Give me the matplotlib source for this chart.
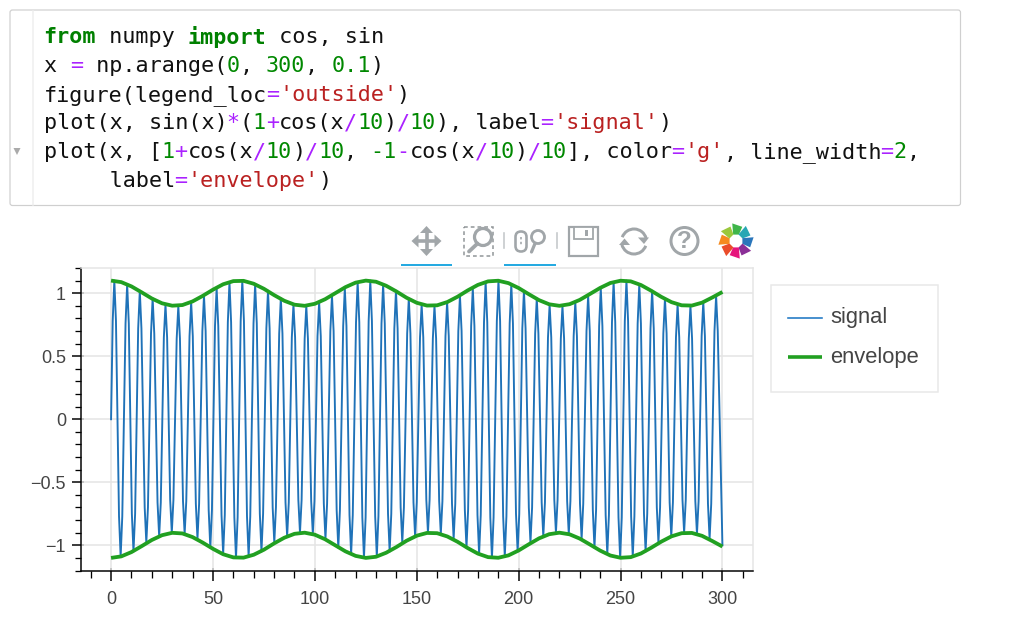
import matplotlib
matplotlib.use("Agg")
import matplotlib.pyplot as plt
from matplotlib.patches import FancyBboxPatch, Rectangle, Circle, Polygon, Arc
from matplotlib.ticker import MultipleLocator, FuncFormatter
from math import cos, sin, radians

W, H = 1024, 623

# ---- data ----
signal_x = [0.0,
    0.8, 1.6, 2.4, 3.9, 4.7, 5.5, 7.1, 7.9, 8.7, 10.2, 11.0, 11.8, 13.3, 14.1, 14.9, 16.5, 17.3, 18.1,
    19.6, 20.4, 21.2, 22.8, 23.6, 24.4, 25.9, 26.7, 27.5, 29.0, 29.8, 30.6,
    32.2, 33.0, 33.8, 35.3, 36.1, 36.9, 38.5, 39.3, 40.1, 41.6, 42.4, 43.2, 44.8, 45.6, 46.4, 47.9, 48.7, 49.5,
    51.0, 51.8, 52.6, 54.2, 55.0, 55.8, 57.3, 58.1, 58.9, 60.5, 61.3, 62.1,
    63.6, 64.4, 65.2, 66.7, 67.5, 68.3, 69.9, 70.7, 71.5, 73.0, 73.8, 74.6, 76.2, 77.0, 77.8, 79.3, 80.1, 80.9,
    82.5, 83.3, 84.1, 85.6, 86.4, 87.2, 88.7, 89.5, 90.3, 91.9, 92.7, 93.5,
    95.0, 95.8, 96.6, 98.2, 99.0, 99.8, 101.3, 102.1, 102.9, 104.4, 105.2, 106.0, 107.6, 108.4, 109.2, 110.7, 111.5, 112.3,
    113.9, 114.7, 115.5, 117.0, 117.8, 118.6, 120.2, 121.0, 121.8, 123.3, 124.1, 124.9,
    126.4, 127.2, 128.0, 129.6, 130.4, 131.2, 132.7, 133.5, 134.3, 135.9, 136.7, 137.5, 139.0, 139.8, 140.6, 142.1, 142.9, 143.7,
    145.3, 146.1, 146.9, 148.4, 149.2, 150.0, 151.6, 152.4, 153.2, 154.7, 155.5, 156.3,
    157.9, 158.7, 159.5, 161.0, 161.8, 162.6, 164.1, 164.9, 165.7, 167.3, 168.1, 168.9, 170.4, 171.2, 172.0, 173.6, 174.4, 175.2,
    176.7, 177.5, 178.3, 179.8, 180.6, 181.4, 183.0, 183.8, 184.6, 186.1, 186.9, 187.7,
    189.3, 190.1, 190.9, 192.4, 193.2, 194.0, 195.6, 196.4, 197.2, 198.7, 199.5, 200.3, 201.8, 202.6, 203.4, 205.0, 205.8, 206.6,
    208.1, 208.9, 209.7, 211.3, 212.1, 212.9, 214.4, 215.2, 216.0, 217.5, 218.3, 219.1,
    220.7, 221.5, 222.3, 223.8, 224.6, 225.4, 227.0, 227.8, 228.6, 230.1, 230.9, 231.7, 233.3, 234.1, 234.9, 236.4, 237.2, 238.0,
    239.5, 240.3, 241.1, 242.7, 243.5, 244.3, 245.8, 246.6, 247.4, 249.0, 249.8, 250.6,
    252.1, 252.9, 253.7, 255.2, 256.0, 256.8, 258.4, 259.2, 260.0, 261.5, 262.3, 263.1, 264.7, 265.5, 266.3, 267.8, 268.6, 269.4,
    271.0, 271.8, 272.6, 274.1, 274.9, 275.7, 277.2, 278.0, 278.8, 280.4, 281.2, 282.0,
    283.5, 284.3, 285.1, 286.7, 287.5, 288.3, 289.8, 290.6, 291.4, 292.9, 293.7, 294.5, 296.1, 296.9, 297.7, 300.0]
signal_y = [0.0,
    .78, 1.10, .78, -.77, -1.09, -.77, .76, 1.07, .76, -.75, -1.05, -.75, .72, 1.02, .72, -.70, -.98, -.70,
    .68, .96, .68, -.66, -.93, -.66, .65, .91, .65, -.64, -.90, -.64,
    .64, .90, .64, -.65, -.91, -.65, .66, .93, .66, -.67, -.95, -.67, .70, .98, .70, -.72, -1.02, -.72,
    .74, 1.04, .74, -.76, -1.07, -.76, .77, 1.09, .77, -.78, -1.10, -.78,
    .78, 1.10, .78, -.77, -1.09, -.77, .76, 1.07, .76, -.75, -1.05, -.75, .72, 1.02, .72, -.70, -.98, -.70,
    .68, .96, .68, -.66, -.93, -.66, .65, .91, .65, -.64, -.90, -.64,
    .64, .90, .64, -.65, -.91, -.65, .66, .93, .66, -.67, -.95, -.67, .70, .98, .70, -.72, -1.02, -.72,
    .74, 1.04, .74, -.76, -1.07, -.76, .77, 1.09, .77, -.78, -1.10, -.78,
    .78, 1.10, .78, -.77, -1.09, -.77, .76, 1.07, .76, -.75, -1.05, -.75, .72, 1.02, .72, -.70, -.98, -.70,
    .68, .96, .68, -.66, -.93, -.66, .65, .91, .65, -.64, -.90, -.64,
    .64, .90, .64, -.65, -.91, -.65, .66, .93, .66, -.67, -.95, -.67, .70, .98, .70, -.72, -1.02, -.72,
    .74, 1.04, .74, -.76, -1.07, -.76, .77, 1.09, .77, -.78, -1.10, -.78,
    .78, 1.10, .78, -.77, -1.09, -.77, .76, 1.07, .76, -.75, -1.05, -.75, .72, 1.02, .72, -.70, -.98, -.70,
    .68, .96, .68, -.66, -.93, -.66, .65, .91, .65, -.64, -.90, -.64,
    .64, .90, .64, -.65, -.91, -.65, .66, .93, .66, -.67, -.95, -.67, .70, .98, .70, -.72, -1.02, -.72,
    .74, 1.04, .74, -.76, -1.07, -.76, .77, 1.09, .77, -.78, -1.10, -.78,
    .78, 1.10, .78, -.77, -1.09, -.77, .76, 1.07, .76, -.75, -1.05, -.75, .72, 1.02, .72, -.70, -.98, -.70,
    .68, .96, .68, -.66, -.93, -.66, .65, .91, .65, -.64, -.90, -.64,
    .64, .90, .64, -.65, -.91, -.65, .66, .93, .66, -.67, -.95, -.67, .70, .98, .70, -1.00]

envelope_x = [0, 5, 10, 15, 20, 25, 30, 35, 40, 45, 50, 55, 60, 65, 70, 75, 80, 85, 90, 95,
              100, 105, 110, 115, 120, 125, 130, 135, 140, 145, 150, 155, 160, 165, 170, 175, 180, 185, 190, 195,
              200, 205, 210, 215, 220, 225, 230, 235, 240, 245, 250, 255, 260, 265, 270, 275, 280, 285, 290, 295, 300]
envelope_top = [1.100, 1.088, 1.054, 1.007, 0.958, 0.920, 0.901, 0.906, 0.935, 0.979,
                1.028, 1.071, 1.096, 1.098, 1.075, 1.035, 0.985, 0.940, 0.909, 0.900,
                0.916, 0.952, 1.000, 1.048, 1.084, 1.100, 1.091, 1.059, 1.014, 0.964,
                0.924, 0.902, 0.904, 0.930, 0.972, 1.022, 1.066, 1.094, 1.099, 1.080,
                1.041, 0.992, 0.945, 0.912, 0.900, 0.913, 0.947, 0.994, 1.042, 1.081,
                1.099, 1.094, 1.065, 1.020, 0.971, 0.929, 0.904, 0.902, 0.925, 0.966, 1.010]
envelope_bottom = [-v for v in envelope_top]

x_major = [0, 50, 100, 150, 200, 250, 300]
y_major = [-1, -0.5, 0, 0.5, 1]
legend_labels = ["signal", "envelope"]

BLACK, KW, NUM, OP, STR = "#111111", "#008000", "#008800", "#AA22FF", "#BA2121"
code_lines = [
    [("from", KW, 1), (" numpy ", BLACK, 0), ("import", KW, 1), (" cos, sin", BLACK, 0)],
    [("x ", BLACK, 0), ("=", OP, 1), (" np.arange(", BLACK, 0), ("0", NUM, 0), (", ", BLACK, 0),
     ("300", NUM, 0), (", ", BLACK, 0), ("0.1", NUM, 0), (")", BLACK, 0)],
    [("figure(legend_loc", BLACK, 0), ("=", OP, 1), ("'outside'", STR, 0), (")", BLACK, 0)],
    [("plot(x, sin(x)", BLACK, 0), ("*", OP, 1), ("(", BLACK, 0), ("1", NUM, 0), ("+", OP, 1),
     ("cos(x", BLACK, 0), ("/", OP, 1), ("10", NUM, 0), (")", BLACK, 0), ("/", OP, 1), ("10", NUM, 0),
     ("), label", BLACK, 0), ("=", OP, 1), ("'signal'", STR, 0), (")", BLACK, 0)],
    [("plot(x, [", BLACK, 0), ("1", NUM, 0), ("+", OP, 1), ("cos(x", BLACK, 0), ("/", OP, 1),
     ("10", NUM, 0), (")", BLACK, 0), ("/", OP, 1), ("10", NUM, 0), (", ", BLACK, 0), ("-1", NUM, 0),
     ("-", OP, 1), ("cos(x", BLACK, 0), ("/", OP, 1), ("10", NUM, 0), (")", BLACK, 0), ("/", OP, 1),
     ("10", NUM, 0), ("], color", BLACK, 0), ("=", OP, 1), ("'g'", STR, 0), (", line_width", BLACK, 0),
     ("=", OP, 1), ("2", NUM, 0), (",", BLACK, 0)],
    [("     label", BLACK, 0), ("=", OP, 1), ("'envelope'", STR, 0), (")", BLACK, 0)],
]
code_y = [35.3, 64, 92.7, 121.4, 150, 178.7]

# ---- figure ----
fig = plt.figure(figsize=(W / 100, H / 100), dpi=100, facecolor="white")
px = 72 / 100  # one pixel in points
BLUE, GREEN = "#1f72b8", "#21a021"

ax = fig.add_axes([80.5 / W, 1 - 570.5 / H, (753 - 80.5) / W, (570.5 - 268) / H])
ax.plot(signal_x, signal_y, color=BLUE, lw=1.9 * px, label=legend_labels[0], zorder=3)
ax.plot(envelope_x, envelope_top, color=GREEN, lw=3.8 * px, zorder=4,
        label=legend_labels[1], solid_capstyle="butt")
ax.plot(envelope_x, envelope_bottom, color=GREEN, lw=3.8 * px, zorder=4, solid_capstyle="butt")
ax.set_xlim(-15, 315)
ax.set_ylim(-1.2, 1.2)
ax.grid(True, which="major", color="#e5e5e5", lw=1.6 * px, zorder=0)
ax.set_axisbelow(True)
for s in ("top", "right"):
    ax.spines[s].set_color("#e5e5e5")
    ax.spines[s].set_linewidth(1.5 * px)
for s in ("left", "bottom"):
    ax.spines[s].set_color("black")
    ax.spines[s].set_linewidth(1.5 * px)
ax.set_xticks(x_major)
ax.set_yticks(y_major)
ax.xaxis.set_minor_locator(MultipleLocator(10))
ax.yaxis.set_minor_locator(MultipleLocator(0.1))
fmt = lambda v, _: (f"{v:g}").replace("-", "\u2212")
ax.xaxis.set_major_formatter(FuncFormatter(fmt))
ax.yaxis.set_major_formatter(FuncFormatter(fmt))
ax.tick_params(which="major", direction="out", length=9.5 * px, width=1.5 * px, color="black")
ax.tick_params(which="minor", direction="out", length=6.5 * px, width=1.3 * px, color="black")
ax.tick_params(axis="x", which="major", pad=10.5 * px)
ax.tick_params(axis="y", which="major", pad=5 * px)
for lab in ax.get_xticklabels() + ax.get_yticklabels():
    lab.set_fontfamily("Liberation Sans")
    lab.set_fontsize(13)
    lab.set_color("#444444")

# short inner stubs of the major ticks
for side, axis in (("bottom", ax.secondary_xaxis), ("left", ax.secondary_yaxis)):
    sec = axis(side)
    sec.spines[side].set_visible(False)
    sec.set_xticks(x_major) if side == "bottom" else sec.set_yticks(y_major)
    sec.tick_params(which="major", direction="in", length=3 * px, width=1.5 * px,
                    labelbottom=False, labelleft=False)
    sec.minorticks_off()

# ---- overlay in pixel coordinates ----
ov = fig.add_axes([0, 0, 1, 1], zorder=5)
ov.set_xlim(0, W)
ov.set_ylim(H, 0)
ov.axis("off")
ov.patch.set_alpha(0)

# code cell
ov.add_patch(FancyBboxPatch((10, 10), 950.5, 195.5, boxstyle="round,pad=0,rounding_size=2.5",
                            fc="white", ec="#cfcfcf", lw=1.2 * px))
ov.plot([33, 33], [11, 205], color="#eeeeee", lw=1.5 * px)
ov.add_patch(Polygon([[13.5, 148], [20.5, 148], [17, 155]], fc="#aaaaaa", ec="none"))
CW = 13.08
for y, tokens in zip(code_y, code_lines):
    col = 0
    for s, c, bold in tokens:
        ov.text(43.5 + col * CW, y, s, family="DejaVu Sans Mono", fontsize=15.7, color=c,
                fontweight="bold" if bold and c == KW else "normal", va="center_baseline", ha="left")
        col += len(s)

# toolbar
G = "#a1a6a9"
ov.add_patch(Rectangle((401, 264), 51, 2.2, fc="#26aae1", ec="none"))
ov.add_patch(Rectangle((504, 264), 52, 2.2, fc="#26aae1", ec="none"))
# pan
cx, cy = 426.5, 241
ov.plot([cx - 11, cx + 11], [cy, cy], color=G, lw=3.6 * px, solid_capstyle="butt")
ov.plot([cx, cx], [cy - 11, cy + 11], color=G, lw=3.6 * px, solid_capstyle="butt")
for pts in ([[cx - 15, cy], [cx - 8, cy - 6.5], [cx - 8, cy + 6.5]], [[cx + 15, cy], [cx + 8, cy - 6.5], [cx + 8, cy + 6.5]],
            [[cx, cy - 15], [cx - 6.5, cy - 8], [cx + 6.5, cy - 8]], [[cx, cy + 15], [cx - 6.5, cy + 8], [cx + 6.5, cy + 8]]):
    ov.add_patch(Polygon(pts, fc=G, ec="none"))
# box zoom
ov.add_patch(Rectangle((463.5, 227), 29, 29, fc="none", ec="#8f9496", lw=1.5 * px, ls=(0, (2.5, 2))))
ov.add_patch(Circle((483, 237), 8.5, fc="white", ec=G, lw=3.2 * px))
ov.plot([477.5, 469], [243.5, 251.5], color=G, lw=3.8 * px, solid_capstyle="round")
# separators
for x in (503.5, 557):
    ov.plot([x, x], [233, 248], color="#c4c8ca", lw=1.6 * px)
# wheel zoom
ov.add_patch(FancyBboxPatch((515.5, 231.5), 11, 20, boxstyle="round,pad=0,rounding_size=5.5", fc="none", ec=G, lw=2.6 * px))
ov.plot([521, 521], [237, 246], color=G, lw=1.6 * px, ls=(0, (1.5, 1.5)))
ov.add_patch(Circle((538, 237), 6.5, fc="white", ec=G, lw=2.8 * px))
ov.plot([535, 531.5], [243.5, 252], color=G, lw=3.2 * px, solid_capstyle="round")
# save
ov.add_patch(Rectangle((568.5, 227), 29.5, 29, fc="white", ec=G, lw=2.2 * px))
ov.add_patch(Rectangle((574, 227), 18.5, 11.5, fc="white", ec=G, lw=1.8 * px))
ov.add_patch(Rectangle((584.5, 229.5), 3.5, 6, fc=G, ec="none"))
# reset
rc = (634, 241.5)
ov.add_patch(Arc(rc, 25, 25, theta1=200, theta2=345, ec=G, lw=3 * px))
ov.add_patch(Arc(rc, 25, 25, theta1=20, theta2=165, ec=G, lw=3 * px))
ov.add_patch(Polygon([[638, 237.5], [649, 237.5], [644, 244]], fc=G, ec="none"))
ov.add_patch(Polygon([[619, 245], [630, 245], [624.5, 238.5]], fc=G, ec="none"))
# help
ov.add_patch(Circle((684.5, 241), 13.5, fc="white", ec=G, lw=3 * px))
ov.text(684.5, 241.5, "?", family="Liberation Sans", fontweight="bold", fontsize=17.5, color=G, ha="center", va="center")
# logo: pinwheel petals, each overlapping the next
logo_colors = ["#3fb54a", "#27a7b4", "#2a76bb", "#8b2f97", "#e6157c", "#ea4c2a", "#f58a1f", "#9ac83c"]
logo_angles = [-90, -45, 0, 45, 90, 135, 180, 225]
lc = (736, 241)
def polar(r, a):
    return [lc[0] + r * cos(radians(a)), lc[1] + r * sin(radians(a))]
for a, c in zip(logo_angles, logo_colors):
    pts = [polar(7, a - 24), polar(18, a - 12), polar(15.5, a + 24), polar(7, a + 24)]
    ov.add_patch(Polygon(pts, fc=c, ec="none"))

# legend
ov.add_patch(Rectangle((771, 284.5), 167, 107, fc="white", ec="#e8e8e8", lw=1.5 * px))
ov.plot([788, 822], [318, 318], color="#1f77c4", lw=1.6 * px)
ov.plot([788, 822], [357, 357], color=GREEN, lw=3.6 * px, solid_capstyle="butt")
for y, s in zip((318, 357), legend_labels):
    ov.text(830.5, y, s, family="Liberation Sans", fontsize=15.8, color="#444444", va="center", ha="left")

fig.savefig("out.png", dpi=100)
